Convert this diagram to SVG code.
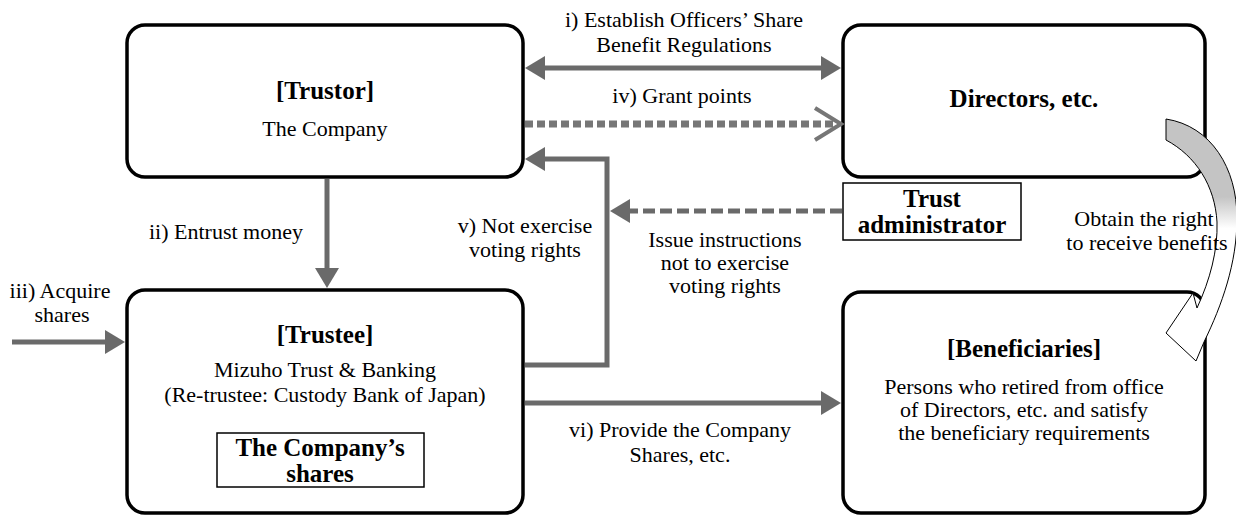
<svg xmlns="http://www.w3.org/2000/svg" width="1236" height="516" viewBox="0 0 1236 516">
<defs>
<style>
.box{fill:#fff;stroke:#000;stroke-width:3.5}
.inner{fill:#fff;stroke:#000;stroke-width:1.5}
.t{font-family:"Liberation Serif","Times New Roman",serif;font-size:22px;fill:#000;text-anchor:middle}
.b{font-weight:bold;font-size:25px}
.c{fill:none;stroke:#6a6a6a;stroke-width:5}
</style>
<marker id="ah" markerUnits="userSpaceOnUse" markerWidth="20" markerHeight="24" refX="10" refY="12" orient="auto-start-reverse" viewBox="0 0 20 24"><path d="M0,0 L20,12 L0,24 z" fill="#6a6a6a"/></marker>
<linearGradient id="cg" x1="0" y1="119" x2="0" y2="362" gradientUnits="userSpaceOnUse"><stop offset="0" stop-color="#c4c4c4"/><stop offset="0.32" stop-color="#c4c4c4"/><stop offset="0.45" stop-color="#fff"/><stop offset="1" stop-color="#fff"/></linearGradient>
</defs>
<rect width="1236" height="516" fill="#fff"/>

<g id="trustor">
<rect class="box" x="127" y="25" width="396" height="152" rx="18"/>
<text class="t b" x="325" y="99">[Trustor]</text>
<text class="t" x="325" y="136">The Company</text>
</g>

<g id="directors">
<rect class="box" x="843" y="25" width="362" height="152" rx="18"/>
<text class="t b" x="1024" y="107">Directors, etc.</text>
</g>

<g id="trustee">
<rect class="box" x="127" y="290" width="396" height="223" rx="18"/>
<text class="t b" x="325" y="343">[Trustee]</text>
<text class="t" x="325" y="377">Mizuho Trust &amp; Banking</text>
<text class="t" x="325" y="402">(Re-trustee: Custody Bank of Japan)</text>
<rect class="inner" x="217" y="433" width="207" height="54"/>
<text class="t b" x="320" y="456">The Company’s</text>
<text class="t b" x="320" y="482">shares</text>
</g>

<g id="beneficiaries">
<rect class="box" x="843" y="292" width="362" height="221" rx="18"/>
<text class="t b" x="1024" y="357">[Beneficiaries]</text>
<text class="t" x="1024" y="394">Persons who retired from office</text>
<text class="t" x="1024" y="417">of Directors, etc. and satisfy</text>
<text class="t" x="1024" y="440">the beneficiary requirements</text>
</g>

<g id="trust-administrator">
<rect class="inner" x="843" y="183" width="178" height="57"/>
<text class="t b" x="932" y="207">Trust</text>
<text class="t b" x="932" y="233">administrator</text>
</g>

<g id="connectors">
<line class="c" x1="535" y1="68" x2="831" y2="68" marker-start="url(#ah)" marker-end="url(#ah)"/>
<line x1="525" y1="124" x2="838" y2="124" stroke="#767676" stroke-width="7" stroke-dasharray="8 4"/>
<polyline points="815,108 841,124 815,140" fill="none" stroke="#767676" stroke-width="4"/>
<line class="c" x1="327" y1="179" x2="327" y2="278" marker-end="url(#ah)"/>
<line class="c" x1="12" y1="342" x2="115" y2="342" marker-end="url(#ah)"/>
<polyline class="c" points="525,365 607,365 607,159 535,159" marker-end="url(#ah)"/>
<line class="c" x1="842" y1="211" x2="620" y2="211" stroke="#737373" stroke-dasharray="12 5" marker-end="url(#ah)"/>
<line class="c" x1="525" y1="403" x2="831" y2="403" marker-end="url(#ah)"/>
<path id="curved-arrow" d="M1166,119 C1211,126 1237,168 1237,218 C1237,263 1222,305 1204,342 L1196,361 L1166,333 L1193,293 L1197,308 C1210,280 1218,250 1217,222 C1215,186 1196,156 1166,140 Z" fill="url(#cg)" stroke="#000" stroke-width="1"/>
</g>

<g id="labels">
<text class="t" x="684" y="27">i) Establish Officers’ Share</text>
<text class="t" x="684" y="52">Benefit Regulations</text>
<text class="t" x="682" y="103">iv) Grant points</text>
<text class="t" x="226" y="239">ii) Entrust money</text>
<text class="t" x="525" y="233">v) Not exercise</text>
<text class="t" x="525" y="257">voting rights</text>
<text class="t" x="725" y="247">Issue instructions</text>
<text class="t" x="725" y="270">not to exercise</text>
<text class="t" x="725" y="293">voting rights</text>
<text class="t" x="1144" y="226">Obtain the right</text>
<text class="t" x="1147" y="250">to receive benefits</text>
<text class="t" x="60" y="298">iii) Acquire</text>
<text class="t" x="62" y="322">shares</text>
<text class="t" x="680" y="437">vi) Provide the Company</text>
<text class="t" x="680" y="462">Shares, etc.</text>
</g>
</svg>
